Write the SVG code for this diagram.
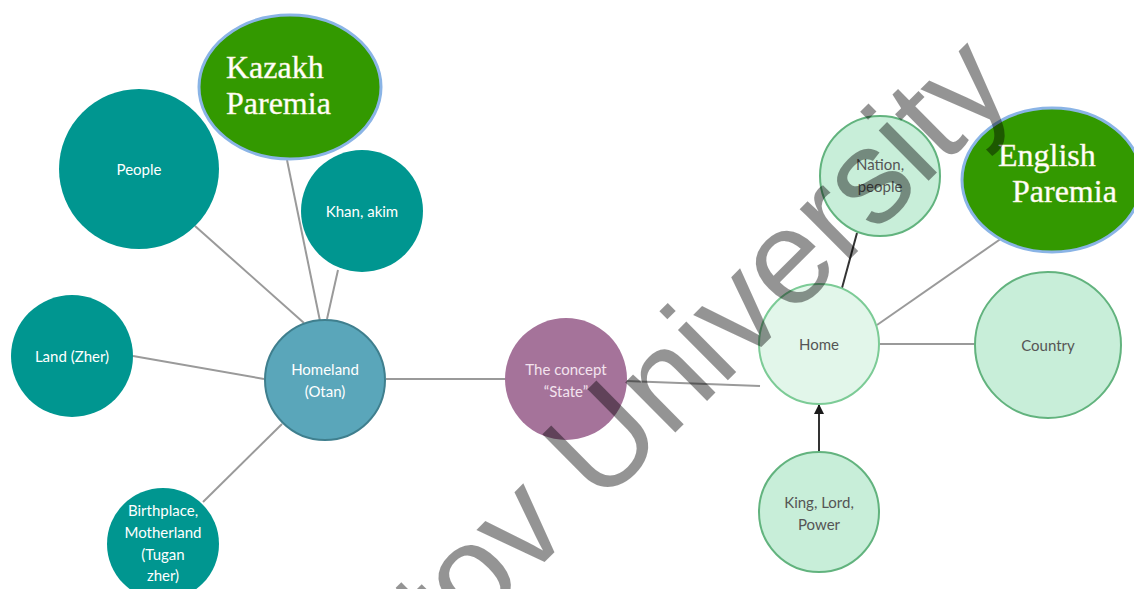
<svg xmlns="http://www.w3.org/2000/svg" width="1134" height="589" viewBox="0 0 1134 589">
<style>
.lbl{font-family:Lato,"Open Sans","Liberation Sans",sans-serif;font-size:15px;text-anchor:middle}
.w{fill:#ffffff}
.dk{fill:#555555}
.teal{fill:#009690}
.mint{fill:#c8eed9;stroke:#62b37e;stroke-width:2}
.par{fill:#339900;stroke:#8ab4e6;stroke-width:3}
.ptxt{font-family:"Liberation Serif","Times New Roman",serif;font-size:32px;fill:#ffffff;stroke:#f5f0d0;stroke-width:0.4}
.con{stroke:#9a9a9a;stroke-width:2;fill:none}
.dcon{stroke:#333333;stroke-width:2;fill:none}
</style>
<defs>
<marker id="ah" markerWidth="10" markerHeight="10" refX="9" refY="5" orient="auto" markerUnits="userSpaceOnUse">
<path d="M0,0 L10,5 L0,10 z" fill="#1a1a1a"/>
</marker>
</defs>
<rect width="1134" height="589" fill="#ffffff"/>
<g id="connectors">
<line class="con" x1="195" y1="226" x2="304" y2="323"/>
<line class="con" x1="287" y1="160" x2="320" y2="321"/>
<line class="con" x1="338" y1="270" x2="327" y2="319"/>
<line class="con" x1="133" y1="356" x2="264" y2="379"/>
<line class="con" x1="203" y1="502" x2="282" y2="424"/>
<line class="con" x1="386" y1="379" x2="506" y2="379"/>
<line class="con" x1="626" y1="381" x2="760" y2="386"/>
<line class="con" x1="877" y1="325" x2="1002" y2="238"/>
<line class="con" x1="880" y1="344" x2="975" y2="344"/>
<line class="dcon" x1="842" y1="288" x2="857" y2="233"/>
<line class="dcon" x1="819" y1="452" x2="819" y2="405" marker-end="url(#ah)"/>
</g>
<g id="kazakh">
<ellipse class="par" cx="290" cy="87" rx="91" ry="72"/>
<text class="ptxt" x="226" y="78">Kazakh</text>
<text class="ptxt" x="226" y="114">Paremia</text>
</g>
<g id="people">
<circle class="teal" cx="139" cy="169" r="80"/>
<text class="lbl w" x="139" y="175">People</text>
</g>
<g id="khan">
<circle class="teal" cx="362" cy="211" r="61"/>
<text class="lbl w" x="362" y="217">Khan, akim</text>
</g>
<g id="land">
<circle class="teal" cx="72" cy="356" r="61"/>
<text class="lbl w" x="72" y="362">Land (Zher)</text>
</g>
<g id="homeland">
<circle cx="325" cy="380" r="60" fill="#5aa6ba" stroke="#3f7f8e" stroke-width="2"/>
<text class="lbl w" x="325" y="375">Homeland</text>
<text class="lbl w" x="325" y="397">(Otan)</text>
</g>
<g id="birthplace">
<circle class="teal" cx="163" cy="544" r="56"/>
<text class="lbl w" x="163" y="516">Birthplace,</text>
<text class="lbl w" x="163" y="538">Motherland</text>
<text class="lbl w" x="163" y="560">(Tugan</text>
<text class="lbl w" x="163" y="581">zher)</text>
</g>
<g id="state">
<circle cx="566" cy="379" r="61" fill="#a5739a"/>
<text class="lbl" x="566" y="375" fill="#f3e3ee">The concept</text>
<text class="lbl" x="566" y="397" fill="#f3e3ee">“State”</text>
</g>
<g id="home">
<circle cx="819" cy="344" r="60" fill="#e2f6ea" stroke="#7ccb96" stroke-width="2"/>
<text class="lbl dk" x="819" y="350">Home</text>
</g>
<g id="nation">
<circle class="mint" cx="880" cy="176" r="60"/>
<text class="lbl dk" x="880" y="170">Nation,</text>
<text class="lbl dk" x="880" y="192">people</text>
</g>
<g id="english">
<ellipse class="par" cx="1052" cy="180" rx="90" ry="72"/>
<text class="ptxt" x="998" y="166">English</text>
<text class="ptxt" x="1012" y="202">Paremia</text>
</g>
<g id="country">
<circle class="mint" cx="1048" cy="345" r="73"/>
<text class="lbl dk" x="1048" y="351">Country</text>
</g>
<g id="king">
<circle class="mint" cx="819" cy="512" r="60"/>
<text class="lbl dk" x="819" y="508">King, Lord,</text>
<text class="lbl dk" x="819" y="530">Power</text>
</g>
<g id="watermark">
<text transform="translate(446.8,659.3) rotate(-44.8)" x="0" y="0" font-family="'Liberation Sans',Arial,sans-serif" font-size="134" fill="#000000" fill-opacity="0.42">tov University</text>
</g>
</svg>
